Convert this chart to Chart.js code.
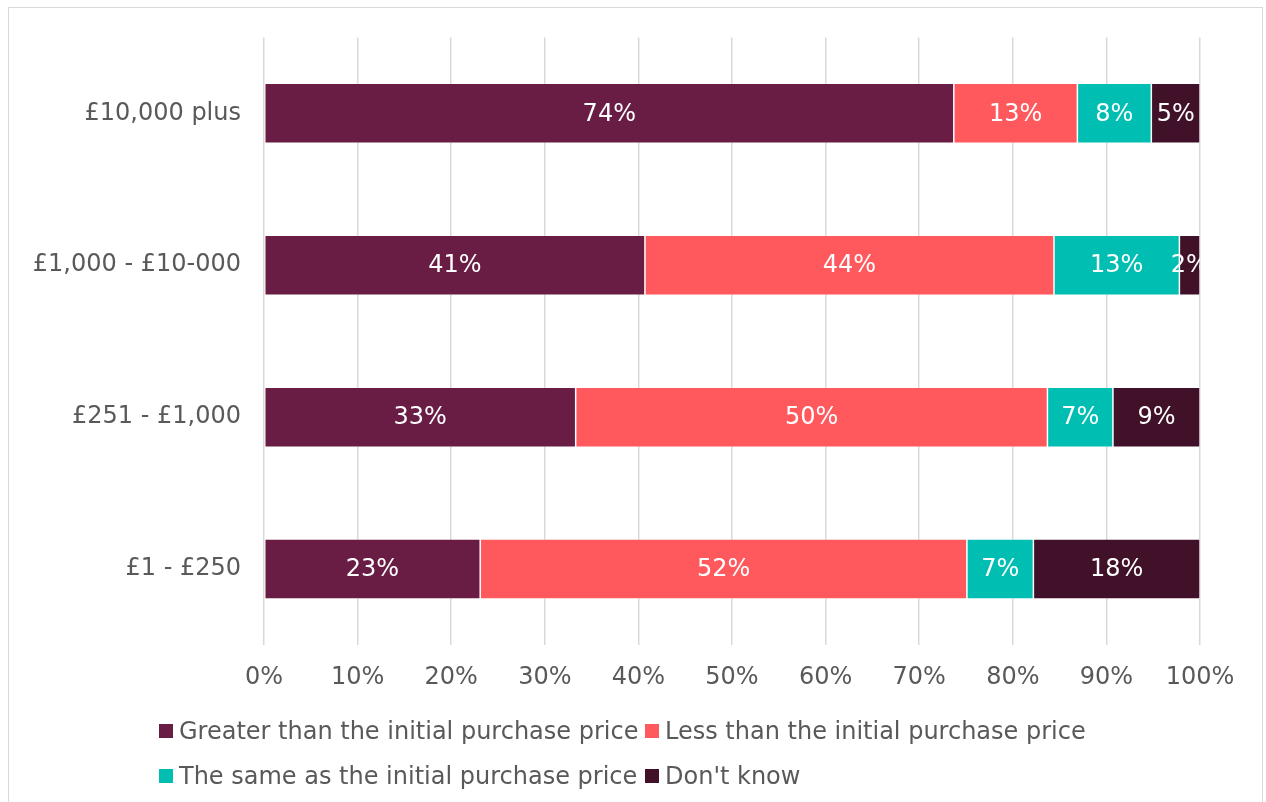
<!DOCTYPE html>
<html>
<head>
<meta charset="utf-8">
<script src="https://cdn.jsdelivr.net/npm/chart.js@4.4.0/dist/chart.umd.min.js"></script>
<style>
  html, body { margin: 0; padding: 0; background: #fff; }
  #wrap { position: relative; width: 1266px; height: 802px; overflow: hidden; }
  #frame { position: absolute; left: 8px; top: 7px; width: 1255px; height: 820px; border: 1px solid #d9d9d9; box-sizing: border-box; }
  #chart { position: absolute; left: 0; top: 0; }
  #legend { position: absolute; left: 159px; top: 708px; display: grid; grid-template-columns: 486px auto; grid-auto-rows: 45px;
            font: 24px "DejaVu Sans", Verdana, sans-serif; color: #595959; }
  #legend .item { display: flex; align-items: center; white-space: nowrap; }
  #legend .box { width: 14px; height: 14px; margin-right: 6px; flex: none; }
</style>
</head>
<body>
<div id="wrap">
  <div id="frame"></div>
  <canvas id="chart" width="1266" height="802"></canvas>
  <div id="legend"></div>
</div>
<script>
const categories = ["£10,000 plus", "£1,000 - £10-000", "£251 - £1,000", "£1 - £250"];
const seriesNames = [
  "Greater than the initial purchase price",
  "Less than the initial purchase price",
  "The same as the initial purchase price",
  "Don't know"
];
const greater  = [73.7, 40.7, 33.3, 23.1];
const less     = [13.2, 43.7, 50.4, 52.0];
const same     = [7.9, 13.4, 7.0, 7.1];
const dontKnow = [5.2, 2.2, 9.3, 17.8];
const colors = ["#6a1d44", "#ff595e", "#00bfb2", "#411129"];

const FONT = "'DejaVu Sans', Verdana, sans-serif";
const GREY = "#595959";

// white % labels in the middle of each segment, clipped to the plot area
const segmentLabels = {
  id: 'segmentLabels',
  afterDatasetsDraw(chart) {
    const { ctx, chartArea } = chart;
    ctx.save();
    ctx.beginPath();
    ctx.rect(chartArea.left, chartArea.top, chartArea.right - chartArea.left, chartArea.bottom - chartArea.top);
    ctx.clip();
    ctx.font = "24px " + FONT;
    ctx.fillStyle = "#ffffff";
    ctx.textAlign = "center";
    ctx.textBaseline = "middle";
    chart.data.datasets.forEach((ds, i) => {
      chart.getDatasetMeta(i).data.forEach((bar, j) => {
        const p = bar.getCenterPoint();
        ctx.fillText(Math.round(ds.data[j]) + "%", p.x, p.y + 1);
      });
    });
    ctx.restore();
  }
};

const seriesData = [greater, less, same, dontKnow];

const chart = new Chart(document.getElementById('chart'), {
  type: 'bar',
  data: {
    labels: categories,
    datasets: seriesData.map((d, i) => ({
      label: seriesNames[i],
      data: d,
      backgroundColor: colors[i],
      borderColor: 'rgba(255,255,255,0.45)',
      borderWidth: 0.75,
      borderSkipped: false,
      categoryPercentage: 1,
      barPercentage: 0.395
    }))
  },
  options: {
    indexAxis: 'y',
    responsive: false,
    animation: false,
    layout: { padding: { top: 37, left: 0, right: 66, bottom: 102 } },
    plugins: { legend: { display: false }, tooltip: { enabled: false } },
    scales: {
      x: {
        stacked: true,
        min: 0, max: 100,
        ticks: { stepSize: 10, callback: v => v + '%', color: GREY, font: { family: FONT, size: 24 }, padding: 18, maxRotation: 0 },
        grid: { color: '#d9d9d9', lineWidth: 1.5, drawTicks: false },
        border: { display: false },
        afterFit(scale) { scale.height = 55; }
      },
      y: {
        stacked: true,
        ticks: { color: GREY, font: { family: FONT, size: 24 }, padding: 23 },
        grid: { display: false, drawTicks: false },
        border: { display: false },
        afterFit(scale) { scale.width = 264; }
      }
    }
  },
  plugins: [segmentLabels]
});

// legend laid out as a two-column grid, like the original
const legend = document.getElementById('legend');
chart.data.datasets.forEach(ds => {
  const item = document.createElement('div');
  item.className = 'item';
  const box = document.createElement('span');
  box.className = 'box';
  box.style.background = ds.backgroundColor;
  const txt = document.createElement('span');
  txt.textContent = ds.label;
  item.appendChild(box);
  item.appendChild(txt);
  legend.appendChild(item);
});
</script>
</body>
</html>
